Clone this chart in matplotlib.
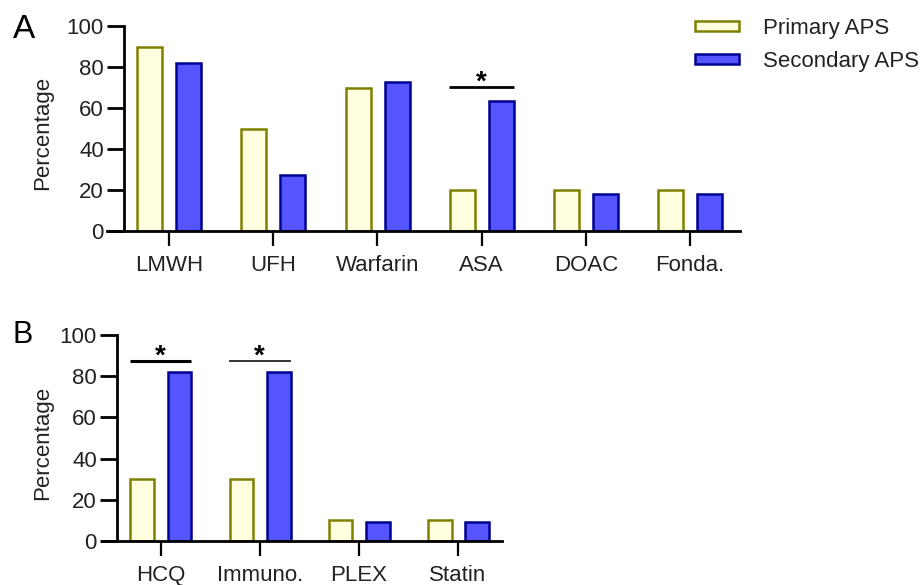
import matplotlib
matplotlib.use("Agg")
import matplotlib.pyplot as plt
import numpy as np

plt.rcParams["font.family"] = ["Liberation Sans", "DejaVu Sans"]

# panel A: anticoagulants / antiplatelets
cats_a = ["LMWH", "UFH", "Warfarin", "ASA", "DOAC", "Fonda."]
primary_a = [90, 50, 70, 20, 20, 20]
secondary_a = [81.8, 27.3, 72.7, 63.6, 18.2, 18.2]

# panel B: other treatments
cats_b = ["HCQ", "Immuno.", "PLEX", "Statin"]
primary_b = [30, 30, 10, 10]
secondary_b = [81.8, 81.8, 9.1, 9.1]

labels = ["Primary APS", "Secondary APS"]
yticks = [0, 20, 40, 60, 80, 100]

# significance brackets: (category index, y level)
sig_a = [(3, 70.4)]
sig_b = [(0, 87.5), (1, 87.5)]
sig_lw_a = [2]
sig_lw_b = [2.2, 1.1]

PRIM_FACE, PRIM_EDGE = "#FFFFE0", "#808000"
SEC_FACE, SEC_EDGE = "#5555FF", "#000090"
TXT = "#222222"
FS = 16

fig = plt.figure(figsize=(9.21, 5.85), dpi=100)


def draw_panel(rect, cats, prim, sec, sigs, sig_lw, xlim, spine_x, lab_x):
    ax = fig.add_axes(rect)
    x = np.arange(len(cats))
    w = 0.24
    b1 = ax.bar(x - 0.185, prim, w, facecolor=PRIM_FACE, edgecolor=PRIM_EDGE, linewidth=1.8, label=labels[0])
    b2 = ax.bar(x + 0.19, sec, w, facecolor=SEC_FACE, edgecolor=SEC_EDGE, linewidth=1.8, label=labels[1])
    ax.set_xlim(*xlim)
    ax.set_ylim(0, 100)
    ax.set_yticks(yticks)
    ax.set_xticks(x)
    ax.set_xticklabels(cats)
    for s in ["top", "right"]:
        ax.spines[s].set_visible(False)
    ax.spines["left"].set_position(("data", spine_x))
    ax.spines["left"].set_bounds(0, 100)
    for s in ["left", "bottom"]:
        ax.spines[s].set_linewidth(2)
    ax.tick_params(axis="y", length=12, width=2, pad=2.5, labelsize=FS, labelcolor=TXT)
    ax.tick_params(axis="x", length=11, width=1.6, pad=6, labelsize=FS, labelcolor=TXT)
    ax.set_ylabel("Percentage", fontsize=FS, color=TXT)
    ax.yaxis.set_label_coords(lab_x, 0.478)
    for (i, yv), lw in zip(sigs, sig_lw):
        ax.plot([i - 0.31, i + 0.31], [yv, yv], color="black", lw=lw, solid_capstyle="butt")
        ax.text(i, yv - 1.2, "*", ha="center", va="baseline", fontsize=20, fontweight="bold")
    return ax, b1, b2


ax_a, h1, h2 = draw_panel([107 / 921, 354 / 585, 633 / 921, 205 / 585],
                          cats_a, primary_a, secondary_a, sig_a, sig_lw_a,
                          (-0.595, 5.48), -0.432, -0.085)
ax_b, _, _ = draw_panel([102 / 921, 44 / 585, 400 / 921, 206 / 585],
                        cats_b, primary_b, secondary_b, sig_b, sig_lw_b,
                        (-0.592, 3.444), -0.441, -0.1225)

fig.text(13 / 921, 1 - 38 / 585, "A", fontsize=24, color="black")
fig.text(12 / 921, 1 - 343 / 585, "B", fontsize=22, color="black")

fig.legend([h1, h2], labels, loc="upper left", bbox_to_anchor=(686 / 921, 1 - 9 / 585),
           frameon=False, fontsize=FS, handlelength=1.98, handleheight=0.35,
           handletextpad=1.08, labelspacing=0.55, borderaxespad=0, labelcolor=TXT)

fig.savefig("out.png", dpi=100)
